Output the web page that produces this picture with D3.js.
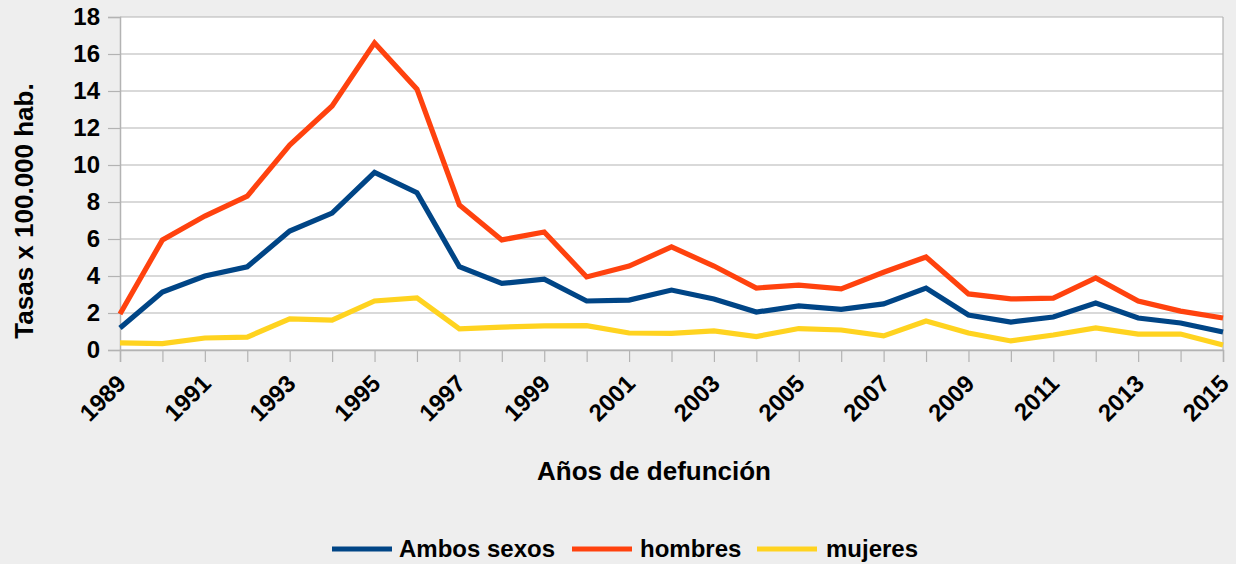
<!DOCTYPE html>
<html>
<head>
<meta charset="utf-8">
<script src="https://cdn.jsdelivr.net/npm/d3@7"></script>
<style>
  html, body { margin: 0; padding: 0; background: #eeeeee; }
  svg { display: block; }
  text { font-family: "Liberation Sans", Arial, sans-serif; font-weight: bold; fill: #000; }
</style>
</head>
<body>
<svg id="chart" width="1236" height="564"></svg>
<script>
const years = [1989,1990,1991,1992,1993,1994,1995,1996,1997,1998,1999,2000,2001,2002,2003,2004,2005,2006,2007,2008,2009,2010,2011,2012,2013,2014,2015];
const ambos = [1.19,3.13,4.0,4.5,6.43,7.4,9.6,8.5,4.5,3.6,3.83,2.65,2.7,3.24,2.76,2.05,2.38,2.2,2.49,3.35,1.89,1.51,1.78,2.54,1.73,1.46,0.97];
const hombres = [1.95,5.95,7.24,8.32,11.08,13.19,16.6,14.1,7.84,5.95,6.38,3.95,4.54,5.57,4.54,3.35,3.51,3.3,4.2,5.03,3.03,2.76,2.8,3.9,2.65,2.1,1.73];
const mujeres = [0.38,0.35,0.65,0.7,1.68,1.62,2.65,2.81,1.14,1.24,1.3,1.32,0.92,0.9,1.03,0.73,1.16,1.08,0.76,1.57,0.92,0.49,0.81,1.19,0.86,0.86,0.27];
const seriesNames = ["Ambos sexos", "hombres", "mujeres"];
const seriesColors = ["#004586", "#ff420e", "#ffd320"];
const yTicks = [0,2,4,6,8,10,12,14,16,18];
const xLabelYears = [1989,1991,1993,1995,1997,1999,2001,2003,2005,2007,2009,2011,2013,2015];
const yTitle = "Tasas x 100.000 hab.";
const xTitle = "Años de defunción";

const svg = d3.select("#chart");
const pLeft = 120, pRight = 1223, pTop = 17, pBottom = 350;
const grid = "#b3b3b3";
const fontFam = '"Liberation Sans", Arial, sans-serif';

const x = d3.scaleLinear().domain([1989, 2015]).range([pLeft, pRight]);
const y = d3.scaleLinear().domain([0, 18]).range([pBottom, pTop]);

// plot background
svg.append("rect").attr("x", pLeft).attr("y", pTop).attr("width", pRight - pLeft).attr("height", pBottom - pTop).attr("fill", "#fff");

// gridlines
svg.append("g").selectAll("line").data(yTicks).join("line")
  .attr("x1", pLeft).attr("x2", pRight)
  .attr("y1", d => y(d)).attr("y2", d => y(d))
  .attr("stroke", grid).attr("stroke-width", 1.2);

// right border
svg.append("line").attr("x1", pRight).attr("x2", pRight).attr("y1", pTop).attr("y2", pBottom).attr("stroke", grid).attr("stroke-width", 1.2);

// y axis
const yAxis = d3.axisLeft(y).tickValues(yTicks).tickSize(12).tickPadding(8).tickFormat(d3.format("d"));
const gy = svg.append("g").attr("transform", `translate(${pLeft},0)`).call(yAxis);
gy.select(".domain").attr("stroke", grid).attr("stroke-width", 1.5);
gy.selectAll(".tick line").attr("stroke", grid).attr("stroke-width", 1.2);
gy.selectAll(".tick text").style("font-size", "24px").style("font-family", fontFam).style("font-weight", "bold").attr("fill", "#000");

// x axis (ticks every year, labels every 2 years)
const xAxis = d3.axisBottom(x).tickValues(years).tickSize(12).tickFormat(d => xLabelYears.includes(d) ? String(d) : "");
const gx = svg.append("g").attr("transform", `translate(0,${pBottom})`).call(xAxis);
gx.select(".domain").attr("stroke", grid).attr("stroke-width", 1.5);
gx.selectAll(".tick line").attr("stroke", grid).attr("stroke-width", 1.2);
gx.selectAll(".tick text")
  .style("font-size", "24px").style("font-family", fontFam).style("font-weight", "bold")
  .attr("fill", "#000")
  .attr("text-anchor", "end")
  .attr("dy", null)
  .attr("y", null)
  .attr("transform", "translate(7,35) rotate(-45)");

// lines
const allSeries = [ambos, hombres, mujeres];
const line = d3.line().x((d, i) => x(years[i])).y(d => y(d));
[2, 1, 0].forEach(k => {
  svg.append("path").datum(allSeries[k])
    .attr("d", line)
    .attr("fill", "none")
    .attr("stroke", seriesColors[k])
    .attr("stroke-width", 5.2)
    .attr("stroke-linejoin", "miter");
});

// axis titles
svg.append("text").attr("x", 654).attr("y", 480).attr("text-anchor", "middle").style("font-size", "26px").text(xTitle);
svg.append("text").attr("transform", "translate(33,211) rotate(-90)").attr("text-anchor", "middle").style("font-size", "26px").text(yTitle);

// legend
const legendItems = [
  {x: 332, tx: 399},
  {x: 572, tx: 640},
  {x: 757, tx: 826}
];
const lg = svg.append("g");
legendItems.forEach((it, i) => {
  lg.append("line").attr("x1", it.x).attr("x2", it.x + 60).attr("y1", 549).attr("y2", 549)
    .attr("stroke", seriesColors[i]).attr("stroke-width", 5);
  lg.append("text").attr("x", it.tx).attr("y", 557).style("font-size", "24px").text(seriesNames[i]);
});
</script>
</body>
</html>
